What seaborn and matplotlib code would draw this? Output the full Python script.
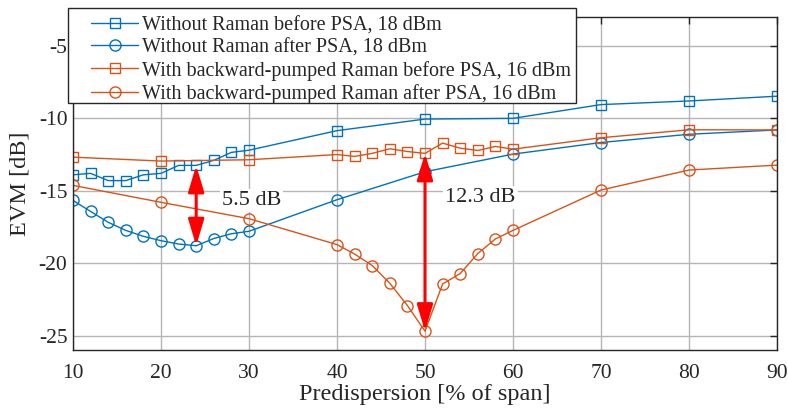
import matplotlib
matplotlib.use("Agg")
import matplotlib.pyplot as plt
import matplotlib.patches as mpatches
import seaborn as sns
import pandas as pd

# ---- data ----
x_blue = [10, 12, 14, 16, 18, 20, 22, 24, 26, 28, 30, 40, 50, 60, 70, 80, 90]
blue_before = [-13.9, -13.8, -14.3, -14.3, -13.9, -13.8, -13.25, -13.25, -12.9, -12.35, -12.2,
               -10.85, -10.05, -10.0, -9.05, -8.8, -8.47]
blue_after = [-15.67, -16.43, -17.18, -17.74, -18.15, -18.45, -18.68, -18.8, -18.3, -17.97, -17.8,
              -15.62, -13.69, -12.47, -11.67, -11.1, -10.8]
x_orange = [10, 20, 30, 40, 42, 44, 46, 48, 50, 52, 54, 56, 58, 60, 70, 80, 90]
orange_before = [-12.68, -12.95, -12.86, -12.5, -12.63, -12.42, -12.1, -12.29, -12.42, -11.71,
                 -12.06, -12.22, -11.94, -12.13, -11.34, -10.79, -10.8]
orange_after = [-14.63, -15.8, -16.93, -18.72, -19.37, -20.17, -21.39, -22.93, -24.7, -21.44,
                -20.72, -19.34, -18.33, -17.74, -14.95, -13.57, -13.23]
labels = ["Without Raman before PSA, 18 dBm",
          "Without Raman after PSA, 18 dBm",
          "With backward-pumped Raman before PSA, 16 dBm",
          "With backward-pumped Raman after PSA, 16 dBm"]
xticks = [10, 20, 30, 40, 50, 60, 70, 80, 90]
yticks = [-25, -20, -15, -10, -5]
gap1 = ("5.5 dB", 24, -13.25, -18.8)
gap2 = ("12.3 dB", 50, -12.42, -24.7)

BLUE = "#0072BD"
ORANGE = "#D95319"
DARK = "#262626"

sns.set_style("white")
plt.rcParams["font.family"] = ["Liberation Serif", "DejaVu Serif"]
plt.rcParams["axes.unicode_minus"] = False

fig = plt.figure(figsize=(7.88, 4.13), dpi=100)
ax = fig.add_axes([73/788, 1-350/413, (777-73)/788, (350-17)/413])

series = [
    (x_blue, blue_before, labels[0], BLUE, "s", 7),
    (x_blue, blue_after, labels[1], BLUE, "o", 8),
    (x_orange, orange_before, labels[2], ORANGE, "s", 7),
    (x_orange, orange_after, labels[3], ORANGE, "o", 8),
]
for xs, ys, lab, col, mk, ms in series:
    df = pd.DataFrame({"x": xs, "y": ys})
    sns.lineplot(data=df, x="x", y="y", ax=ax, color=col, marker=mk, markersize=ms,
                 markerfacecolor="none", markeredgecolor=col, markeredgewidth=1.0,
                 linewidth=1.0, label=lab)

ax.set_xlim(10, 90)
ax.set_ylim(-26, -3)
ax.set_xticks(xticks)
ax.set_yticks(yticks)
ax.grid(True, color="#b5b5b5", linewidth=1.0)
ax.set_axisbelow(True)
for sp in ax.spines.values():
    sp.set_color(DARK)
    sp.set_linewidth(1.0)
    sp.set_visible(True)
ax.tick_params(direction="in", top=True, right=True, length=5, width=1.0,
               labelsize=15.5, color=DARK)
ax.tick_params(axis="x", pad=10)
ax.tick_params(axis="y", pad=4)
ax.set_xlabel("Predispersion [% of span]", fontsize=17.5, labelpad=1)
ax.set_ylabel("EVM [dB]", fontsize=17.5, labelpad=6)

for txt, xx, ytop, ybot in [gap1, gap2]:
    ax.annotate("", xy=(xx, ybot), xytext=(xx, ytop),
                arrowprops=dict(arrowstyle="<|-|>,head_length=1.0,head_width=0.3",
                                color="red", lw=2.2, shrinkA=0, shrinkB=0, mutation_scale=16))

ax.text(30.3, -15.7, gap1[0], fontsize=16, ha="center", va="center", zorder=1.5,
        bbox=dict(facecolor="white", edgecolor="none", pad=1.5))
ax.text(56.3, -15.45, gap2[0], fontsize=16, ha="center", va="center", zorder=1.5,
        bbox=dict(facecolor="white", edgecolor="none", pad=1.5))

# legend box (frame drawn separately for MATLAB-like padding)
frame = mpatches.Rectangle((68/788, 1-103/413), (576-68)/788, (103-8)/413,
                           transform=fig.transFigure, facecolor="white", edgecolor=DARK,
                           linewidth=1.0, clip_on=False, zorder=4.5)
ax.add_artist(frame)
leg = ax.legend(loc="upper left", bbox_to_anchor=(91/788, 1-16/413),
                bbox_transform=fig.transFigure, fontsize=14.5, frameon=False,
                borderpad=0, labelspacing=0.16, handlelength=2.35,
                handletextpad=0.2, borderaxespad=0)
leg.set_zorder(5)

fig.savefig("out.png", dpi=100)
